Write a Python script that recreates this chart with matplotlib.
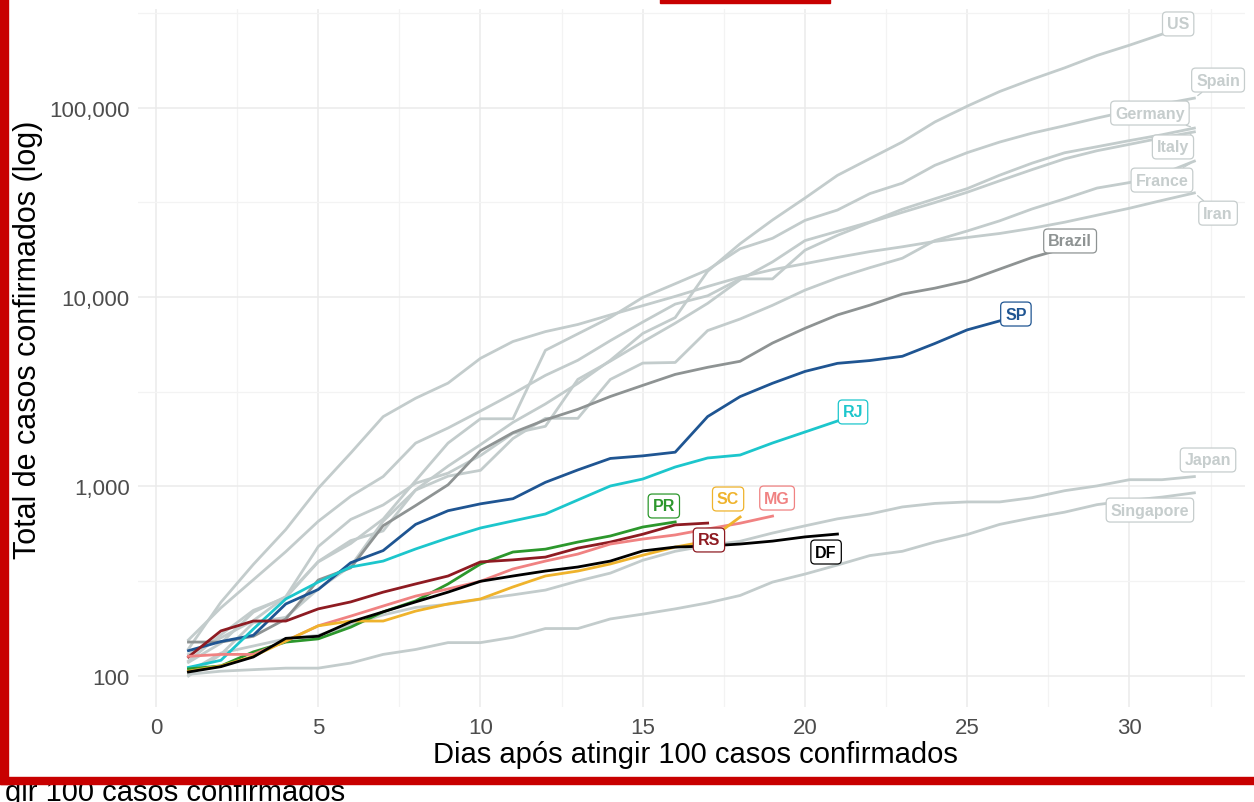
import matplotlib
matplotlib.use("Agg")
import matplotlib.pyplot as plt
from matplotlib.patches import Rectangle
from matplotlib.ticker import FixedLocator, FuncFormatter, NullFormatter
import numpy as np

plt.rcParams["font.family"] = ["Liberation Sans", "DejaVu Sans"]

# --------------------------------------------------------------------------- #
# Data: cumulative confirmed cases, day 1 = first day with >= 100 cases
# --------------------------------------------------------------------------- #
US = [118, 149, 217, 262, 402, 518, 583, 959, 1281, 1663, 2179, 2726, 3499,
      4632, 6421, 7786, 13680, 19101, 25493, 33276, 43847, 53740, 65778,
      83836, 101657, 121465, 140909, 161831, 188172, 213242, 243622]
SPAIN = [120, 165, 222, 259, 400, 500, 673, 1073, 1695, 2277, 2277, 5232,
         6391, 7798, 9942, 11748, 13910, 17963, 20410, 25374, 28768, 35136,
         39885, 49515, 57786, 65719, 73235, 80110, 87956, 95923, 104118, 112065]
GERMANY = [130, 159, 196, 262, 482, 670, 799, 1040, 1176, 1457, 1908, 2078,
           3675, 4585, 5795, 7272, 9257, 12327, 15320, 19848, 22213, 24873,
           29056, 32986, 37323, 43938, 50871, 57695, 62095, 66885, 71808, 77872]
ITALY = [155, 229, 322, 453, 655, 888, 1128, 1694, 2036, 2502, 3089, 3858,
         4636, 5883, 7375, 9172, 10149, 12462, 12462, 17660, 21157, 24747,
         27980, 31506, 35713, 41035, 47021, 53578, 59138, 63927, 69176, 74386]
FRANCE = [100, 130, 191, 204, 288, 380, 656, 957, 1134, 1217, 1792, 2289,
          2289, 3672, 4480, 4513, 6650, 7652, 9043, 10871, 12612, 14282,
          16018, 19856, 22304, 25233, 29155, 32964, 37575, 40174, 44550, 52128]
IRAN = [139, 245, 388, 593, 978, 1501, 2336, 2922, 3513, 4747, 5823, 6566,
        7161, 8042, 9000, 10075, 11364, 12729, 13938, 14991, 16169, 17361,
        18407, 19644, 20610, 21638, 23049, 24811, 27017, 29406, 32332, 35408]
JAPAN = [105, 132, 144, 157, 164, 186, 210, 230, 239, 254, 268, 284, 317,
         349, 408, 455, 488, 514, 568, 620, 675, 716, 780, 814, 829, 829,
         873, 950, 1007, 1086, 1086, 1128]
SINGAPORE = [102, 106, 108, 110, 110, 117, 130, 138, 150, 150, 160, 178, 178,
             200, 212, 226, 243, 266, 313, 345, 385, 432, 455, 509, 558, 631,
             683, 732, 802, 844, 879, 926]
BRAZIL = [151, 151, 162, 200, 321, 372, 621, 793, 1021, 1546, 1924, 2247,
          2554, 2985, 3417, 3904, 4256, 4579, 5717, 6836, 8044, 9056, 10360,
          11130, 12161, 14034, 16170, 18092]

SP = [136, 152, 164, 240, 286, 396, 459, 631, 745, 810, 862, 1052, 1223,
      1406, 1451, 1517, 2339, 2981, 3506, 4048, 4466, 4620, 4866, 5682,
      6708, 7480]
RJ = [111, 121, 177, 255, 313, 376, 404, 468, 535, 604, 658, 716, 849, 1006,
      1095, 1267, 1414, 1466, 1697, 1939, 2216]
PR = [109, 113, 134, 151, 157, 181, 218, 249, 306, 390, 451, 467, 509, 548,
      611, 650]
RS = [126, 173, 195, 195, 226, 246, 277, 306, 337, 400, 410, 424, 473, 509,
      560, 627, 641]
MG = [127, 130, 130, 153, 184, 207, 234, 264, 288, 316, 367, 404, 440, 497,
      528, 555, 597, 640, 698]
SC = [106, 113, 127, 153, 184, 195, 195, 220, 240, 255, 295, 337, 358, 390,
      434, 479, 515, 690]
DF = [105, 112, 126, 158, 162, 193, 218, 246, 277, 316, 337, 358, 376, 404,
      457, 479, 485, 497, 515, 542, 561]

COUNTRIES = {"US": US, "Spain": SPAIN, "Germany": GERMANY, "Italy": ITALY,
             "France": FRANCE, "Iran": IRAN, "Japan": JAPAN,
             "Singapore": SINGAPORE}
STATES = {"SP": SP, "RJ": RJ, "PR": PR, "RS": RS, "MG": MG, "SC": SC, "DF": DF}

# --------------------------------------------------------------------------- #
# Styling
# --------------------------------------------------------------------------- #
GREY_LINE = "#C3CCCC"
GREY_TEXT = "#C6CDCD"
BRAZIL_COL = "#8E9393"
STATE_COLS = {"SP": "#1F5592", "RJ": "#1CC6CC", "PR": "#2C972C",
              "RS": "#8E1B22", "MG": "#F08282", "SC": "#EFB32C", "DF": "#000000"}

# label placement (day, cases) chosen like ggrepel did
LABEL_POS = {"US": (31.5, 276000), "Spain": (32.73, 139600),
             "Germany": (30.63, 93500), "Italy": (31.34, 61900),
             "France": (31.0, 41400), "Iran": (32.73, 27700),
             "Japan": (32.42, 1380), "Singapore": (30.63, 751),
             "Brazil": (28.17, 19750), "SP": (26.5, 8130), "RJ": (21.48, 2473),
             "PR": (15.65, 789), "SC": (17.63, 859), "MG": (19.14, 869),
             "RS": (17.04, 522), "DF": (20.65, 451)}
LEADERS = {"Spain", "Germany", "Italy", "France", "Iran"}

W, H = 1254, 803
fig = plt.figure(figsize=(W / 100, H / 100), dpi=100)
ax = fig.add_axes([138 / W, 1 - 708 / H, (1245 - 138) / W, (708 - 10) / H])


def days_of(vals):
    return np.arange(1, len(vals) + 1)


def put_label(name, vals, color, text_color):
    bbox = dict(boxstyle="round,pad=0.28,rounding_size=0.25", fc="white",
                ec=text_color, lw=0.9)
    kw = dict(ha="center", va="center", fontsize=11.5, fontweight="bold",
              color=text_color, bbox=bbox, zorder=6)
    if name in LEADERS:
        ax.annotate(name, xy=(len(vals), vals[-1]), xytext=LABEL_POS[name],
                    textcoords="data",
                    arrowprops=dict(arrowstyle="-", color=color, lw=0.9,
                                    shrinkA=0, shrinkB=3), **kw)
    else:
        ax.text(*LABEL_POS[name], name, **kw)


for name, vals in COUNTRIES.items():
    ax.plot(days_of(vals), vals, color=GREY_LINE, lw=2.0, zorder=2)
ax.plot(days_of(BRAZIL), BRAZIL, color=BRAZIL_COL, lw=2.0, zorder=3)
for name, vals in STATES.items():
    ax.plot(days_of(vals), vals, color=STATE_COLS[name], lw=2.0, zorder=4)

for name, vals in COUNTRIES.items():
    put_label(name, vals, GREY_LINE, GREY_TEXT)
put_label("Brazil", BRAZIL, BRAZIL_COL, BRAZIL_COL)
for name, vals in STATES.items():
    put_label(name, vals, STATE_COLS[name], STATE_COLS[name])

# axes / grid, theme_minimal look
ax.set_yscale("log")
ax.set_xlim(-0.555, 33.56)
ax.set_ylim(68.6, 331000)
ax.set_xticks(np.arange(0, 31, 5))
ax.xaxis.set_minor_locator(FixedLocator(np.arange(2.5, 33, 5)))
ax.yaxis.set_major_locator(FixedLocator([100, 1000, 10000, 100000]))
ax.yaxis.set_minor_locator(FixedLocator([316.2, 3162, 31623, 316228]))
ax.yaxis.set_major_formatter(FuncFormatter(lambda v, _: f"{v:,.0f}"))
ax.yaxis.set_minor_formatter(NullFormatter())
ax.grid(which="major", color="#EBEBEB", lw=1.1)
ax.grid(which="minor", color="#F3F3F3", lw=0.9)
ax.set_axisbelow(True)
for s in ax.spines.values():
    s.set_visible(False)
ax.tick_params(which="both", length=0, labelsize=16, labelcolor="#4D4D4D")
ax.tick_params(axis="x", pad=7)
ax.tick_params(axis="y", pad=6)

fig.text(695 / W, 1 - 755 / H, "Dias após atingir 100 casos confirmados",
         ha="center", va="center", fontsize=21)
fig.text(28 / W, 1 - 340 / H, "Total de casos confirmados (log)",
         ha="center", va="center", rotation=90, fontsize=22)

# screenshot leftovers: text under the frame and the red frame itself
fig.text(5 / W, 1 - 793 / H, "gir 100 casos confirmados", ha="left",
         va="center", fontsize=21, zorder=1)
red = "#C80000"
fig.add_artist(Rectangle((0, 1 - 785 / H), 8 / W, 785 / H,
                         transform=fig.transFigure, color=red, zorder=10))
fig.add_artist(Rectangle((0, 1 - 785 / H), 1, 7 / H,
                         transform=fig.transFigure, color=red, zorder=10))
fig.add_artist(Rectangle((660 / W, 1 - 4 / H), 170 / W, 4 / H,
                         transform=fig.transFigure, color=red, zorder=10))

fig.savefig("out.png", dpi=100)
